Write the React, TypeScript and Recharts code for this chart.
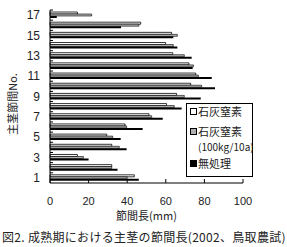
import { BarChart, Bar, XAxis, YAxis } from 'recharts';

// 主茎節位 1..17
const nodes = [1, 2, 3, 4, 5, 6, 7, 8, 9, 10, 11, 12, 13, 14, 15, 16, 17];
// 節間長 (mm)
const limeN = [43.7, 32, 14.2, 32, 29.4, 38.9, 51.3, 60.4, 65.6, 72.9, 75.5, 72.0, 63.6, 59.9, 63.0, 47.0, 14.2];
const limeN100 = [40, 32, 17.3, 35.9, 32.5, 39.7, 52.7, 64.4, 69.6, 78.6, 76.9, 74.3, 69.6, 63.9, 66.0, 46.1, 21.6];
const untreated = [46, 35, 20, 39.7, 36.6, 48.0, 58.4, 68.2, 78.1, 85.5, 83.8, 73.9, 73.4, 66.0, 63.9, 36.8, 3.5];
const xTicks = [0, 20, 40, 60, 80, 100];

const data = nodes.map((n, i) => ({
  node: n,
  a: limeN[i],
  b: limeN100[i],
  c: untreated[i],
}));

const JP = '"Noto Sans CJK JP", sans-serif';
const NUM = '"Liberation Sans", Arial, sans-serif';

function NodeTick(props: any) {
  const { x, y, payload } = props;
  const half = typeof payload.offset === 'number' && payload.offset > 0 ? payload.offset : 173 / 34;
  return (
    <g>
      <line x1={x + 8} x2={x + 11} y1={y - half} y2={y - half} stroke="#000" />
      {payload.value % 2 === 1 && (
        <text x={x - 2} y={y} dy="0.35em" textAnchor="end" fontSize={12} fill="#222" fontFamily={NUM}>
          {payload.value}
        </text>
      )}
    </g>
  );
}

function Swatch({ fill }: { fill: string }) {
  return (
    <span
      style={{
        position: 'absolute',
        left: 3,
        top: 3,
        width: 5,
        height: 5,
        background: fill,
        border: '1px solid #000',
      }}
    />
  );
}

export default function App() {
  return (
    <div style={{ position: 'absolute', left: 0, top: 0, width: 287, height: 247, background: '#fff' }}>
      <BarChart
        width={287}
        height={247}
        data={data}
        layout="vertical"
        margin={{ top: 10, right: 44, left: 0, bottom: 0 }}
        barCategoryGap={2}
        barGap={0}
      >
        <XAxis
          type="number"
          domain={[0, 100]}
          ticks={xTicks}
          height={64}
          tickSize={-4}
          tickMargin={18}
          stroke="#000"
          tick={{ fontSize: 11, fill: '#222', fontFamily: NUM }}
          label={{
            value: '節間長(mm)',
            position: 'insideBottom',
            offset: 27,
            fontSize: 11,
            fill: '#222',
            fontFamily: JP,
          }}
        />
        <YAxis
          type="category"
          dataKey="node"
          reversed
          width={50}
          interval={0}
          tickLine={false}
          stroke="#000"
          tick={<NodeTick />}
        />
        <Bar dataKey="a" fill="#fff" stroke="#000" strokeWidth={0.8} isAnimationActive={false} />
        <Bar dataKey="b" fill="#b0b0b0" stroke="#000" strokeWidth={0.6} isAnimationActive={false} />
        <Bar dataKey="c" fill="#000" isAnimationActive={false} />
      </BarChart>

      <div
        style={{
          position: 'absolute',
          left: 12,
          top: 104,
          transform: 'translate(-50%, -50%) rotate(-90deg)',
          whiteSpace: 'nowrap',
          fontFamily: JP,
          fontSize: 11,
          color: '#222',
          lineHeight: '12px',
        }}
      >
        主茎節間No.
      </div>

      <div
        style={{
          position: 'absolute',
          left: 186,
          top: 103,
          width: 65,
          height: 72,
          border: '1px solid #000',
          background: '#fff',
          fontFamily: JP,
          fontSize: 11,
          lineHeight: '12px',
          color: '#222',
        }}
      >
        <div style={{ position: 'absolute', left: 0, top: 1, width: 65, height: 12 }}>
          <Swatch fill="#fff" />
          <span style={{ position: 'absolute', left: 11, top: 0, whiteSpace: 'nowrap' }}>石灰窒素</span>
        </div>
        <div style={{ position: 'absolute', left: 0, top: 21, width: 65, height: 12 }}>
          <Swatch fill="#b0b0b0" />
          <span style={{ position: 'absolute', left: 11, top: 0, whiteSpace: 'nowrap' }}>石灰窒素</span>
        </div>
        <div
          style={{
            position: 'absolute',
            left: 11,
            top: 37,
            whiteSpace: 'nowrap',
            fontSize: 10,
            lineHeight: '11px',
          }}
        >
          (100kg/10a)
        </div>
        <div style={{ position: 'absolute', left: 0, top: 53, width: 65, height: 12 }}>
          <Swatch fill="#000" />
          <span style={{ position: 'absolute', left: 11, top: 0, whiteSpace: 'nowrap' }}>無処理</span>
        </div>
      </div>

      <div
        style={{
          position: 'absolute',
          left: 2,
          top: 229,
          whiteSpace: 'nowrap',
          fontFamily: JP,
          fontSize: 12,
          lineHeight: '16px',
          letterSpacing: '0.3px',
          color: '#222',
        }}
      >
        図2. 成熟期における主茎の節間長(2002、鳥取農試)
      </div>
    </div>
  );
}
